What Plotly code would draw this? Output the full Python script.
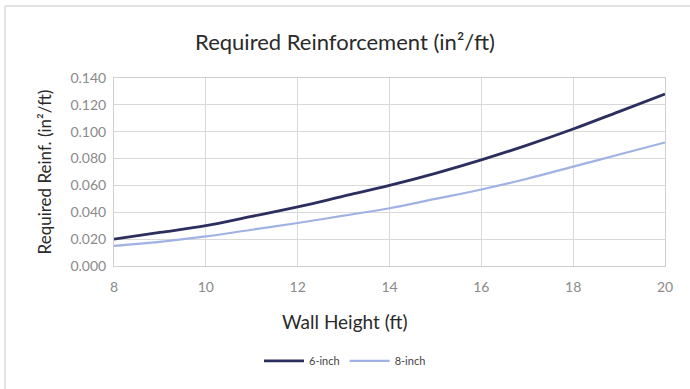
import plotly.graph_objects as go

# Wall height (ft) and required reinforcement (in²/ft) per wall thickness
wall_height = [8, 9, 10, 11, 12, 13, 14, 15, 16, 17, 18, 19, 20]
reinf_6in = [0.020, 0.025, 0.030, 0.037, 0.044, 0.052, 0.060, 0.069, 0.079, 0.090, 0.102, 0.115, 0.128]
reinf_8in = [0.015, 0.018, 0.022, 0.027, 0.032, 0.0375, 0.043, 0.050, 0.057, 0.065, 0.074, 0.083, 0.092]
series_names = ["6-inch", "8-inch"]
y_ticks = [0.0, 0.02, 0.04, 0.06, 0.08, 0.10, 0.12, 0.14]
x_ticks = [8, 10, 12, 14, 16, 18, 20]

FONT = "Lato"
PLOT_W, PLOT_H = 551, 188
L, B = 114, 123

fig = go.Figure()
fig.add_trace(go.Scatter(x=wall_height, y=reinf_6in, name=series_names[0], mode="lines",
                         line=dict(color="#2c2e5e", width=2.8, shape="spline")))
fig.add_trace(go.Scatter(x=wall_height, y=reinf_8in, name=series_names[1], mode="lines",
                         line=dict(color="#9fb2e3", width=2.2, shape="spline")))

fig.update_layout(
    width=690, height=389,
    margin=dict(l=L, r=25, t=78, b=B),
    paper_bgcolor="white", plot_bgcolor="white",
    font=dict(family=FONT, color="#333333"),
    title=dict(text="Required Reinforcement (in²/ft)", x=0.5, xanchor="center",
               y=0.89, yanchor="middle", font=dict(size=22, color="#2a2a2a")),
    xaxis=dict(range=[8, 20], tickvals=x_ticks, showgrid=True, gridcolor="#d9d9d9",
               gridwidth=1, zeroline=False, showline=True, linecolor="#d0d0d0", mirror=True,
               ticks="", ticklabelstandoff=8, tickfont=dict(size=14, color="#8a8a8a")),
    yaxis=dict(range=[0, 0.14], tickvals=y_ticks, tickformat=".3f", showgrid=True,
               gridcolor="#d9d9d9", gridwidth=1, zeroline=False, showline=True,
               linecolor="#d0d0d0", mirror=True, ticks="", ticklabelstandoff=4,
               tickfont=dict(size=14, color="#8a8a8a"),
               title=dict(text="Required Reinf. (in²/ft)", font=dict(size=17, color="#2a2a2a"), standoff=14)),
    legend=dict(orientation="h", x=(345 - L) / PLOT_W, xanchor="center", y=-0.505, yanchor="middle",
                font=dict(size=11, color="#444444"), itemwidth=40),
    showlegend=True,
)

# x-axis title centred on the whole panel
fig.add_annotation(text="Wall Height (ft)", xref="paper", yref="paper",
                   x=(345 - L) / PLOT_W, y=-(321 - 266) / PLOT_H, xanchor="center", yanchor="middle",
                   showarrow=False, font=dict(size=19, color="#2a2a2a"))

# light frame edges along the left and top of the panel
fig.add_shape(type="line", xref="paper", yref="paper", x0=-109/PLOT_W, x1=-109/PLOT_W,
              y0=-B/PLOT_H, y1=(PLOT_H + 72) / PLOT_H, line=dict(color="#e3e3e3", width=2))
fig.add_shape(type="line", xref="paper", yref="paper", x0=-109/PLOT_W, x1=(PLOT_W + 25) / PLOT_W,
              y0=(PLOT_H + 72) / PLOT_H, y1=(PLOT_H + 72) / PLOT_H, line=dict(color="#e3e3e3", width=2))

fig.write_html("out.html")
